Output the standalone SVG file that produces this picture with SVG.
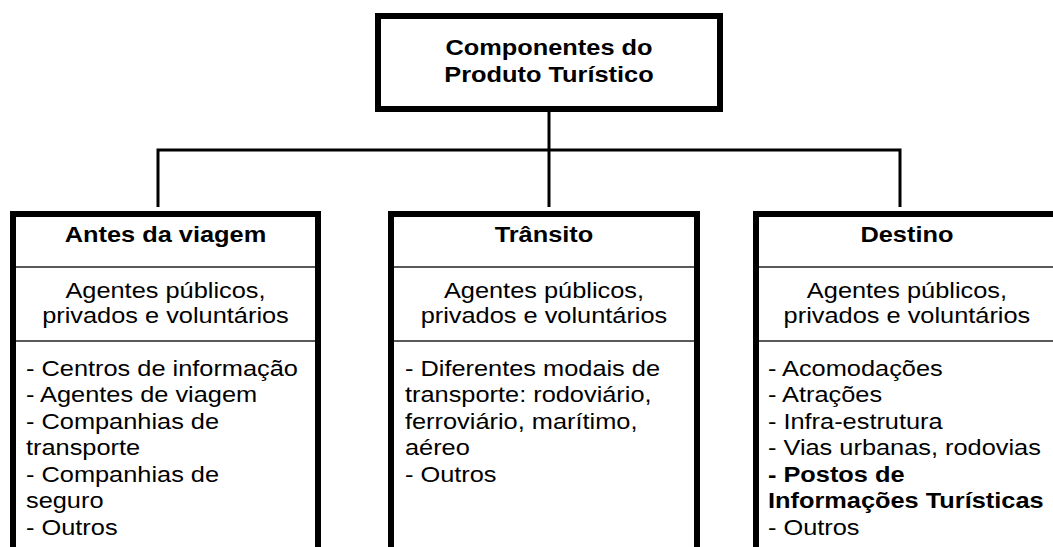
<svg xmlns="http://www.w3.org/2000/svg" width="1053" height="547" viewBox="0 0 1053 547">
<style>
  .box { fill: #ffffff; stroke: #000000; stroke-width: 6; }
  .div { stroke: #222222; stroke-width: 1.6; fill: none; }
  .conn { stroke: #000000; stroke-width: 3; fill: none; }
  text { font-family: "Liberation Sans", Arial, sans-serif; font-size: 21.5px; fill: #000000; }
  .b { font-weight: bold; }
  .c { text-anchor: middle; }
</style>
<rect x="0" y="0" width="1053" height="547" fill="#ffffff"/>
<g id="connectors">
  <path class="conn" d="M549 112 V207"/>
  <path class="conn" d="M158 207 V150 H900 V207"/>
</g>
<g id="root">
  <rect class="box" x="378" y="16" width="342" height="93"/>
  <g transform="scale(1.18 1)">
    <text class="b c" x="465.25" y="55">Componentes do</text>
    <text class="b c" x="465.25" y="82">Produto Turístico</text>
  </g>
</g>
<g id="antes">
  <rect class="box" x="13" y="214" width="305" height="400"/>
  <line class="div" x1="16" y1="267" x2="315" y2="267"/>
  <line class="div" x1="16" y1="341" x2="315" y2="341"/>
  <g transform="scale(1.18 1)">
    <text class="b c" x="140.25" y="242">Antes da viagem</text>
    <text class="c" x="140.25" y="298">Agentes públicos,</text>
    <text class="c" x="140.25" y="323">privados e voluntários</text>
    <text x="22.03" y="376">- Centros de informação</text>
    <text x="22.03" y="402.5">- Agentes de viagem</text>
    <text x="22.03" y="429">- Companhias de</text>
    <text x="22.03" y="455.5">transporte</text>
    <text x="22.03" y="482">- Companhias de</text>
    <text x="22.03" y="508.5">seguro</text>
    <text x="22.03" y="535">- Outros</text>
  </g>
</g>
<g id="transito">
  <rect class="box" x="391" y="214" width="306" height="400"/>
  <line class="div" x1="394" y1="267" x2="694" y2="267"/>
  <line class="div" x1="394" y1="341" x2="694" y2="341"/>
  <g transform="scale(1.18 1)">
    <text class="b c" x="461" y="242">Trânsito</text>
    <text class="c" x="461" y="298">Agentes públicos,</text>
    <text class="c" x="461" y="323">privados e voluntários</text>
    <text x="343.2" y="376">- Diferentes modais de</text>
    <text x="343.2" y="402.5">transporte: rodoviário,</text>
    <text x="343.2" y="429">ferroviário, marítimo,</text>
    <text x="343.2" y="455.5">aéreo</text>
    <text x="343.2" y="482">- Outros</text>
  </g>
</g>
<g id="destino">
  <rect class="box" x="756" y="214" width="302" height="400"/>
  <line class="div" x1="759" y1="267" x2="1055" y2="267"/>
  <line class="div" x1="759" y1="341" x2="1055" y2="341"/>
  <g transform="scale(1.18 1)">
    <text class="b c" x="768.6" y="242">Destino</text>
    <text class="c" x="768.6" y="298">Agentes públicos,</text>
    <text class="c" x="768.6" y="323">privados e voluntários</text>
    <text x="650.8" y="376">- Acomodações</text>
    <text x="650.8" y="402.5">- Atrações</text>
    <text x="650.8" y="429">- Infra-estrutura</text>
    <text x="650.8" y="455.5">- Vias urbanas, rodovias</text>
    <text class="b" x="650.8" y="482">- Postos de</text>
    <text class="b" x="650.8" y="508.5">Informações Turísticas</text>
    <text x="650.8" y="535">- Outros</text>
  </g>
</g>
</svg>
